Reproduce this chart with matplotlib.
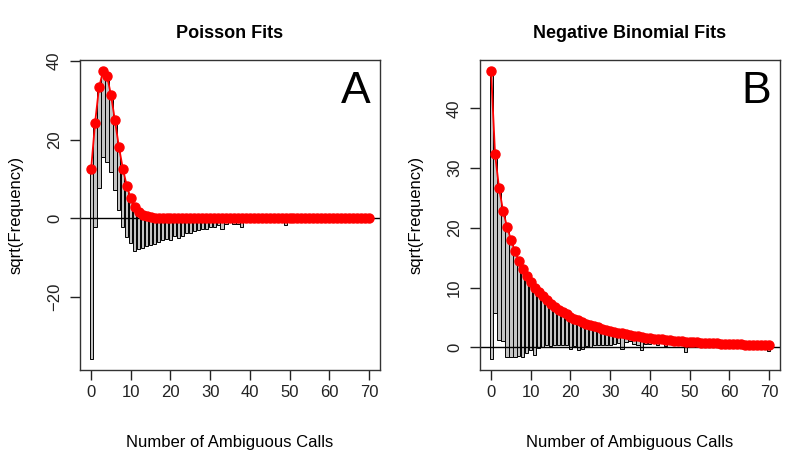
import numpy as np
import matplotlib.pyplot as plt

plt.rcParams['font.family'] = ['Liberation Sans', 'DejaVu Sans']

# number of ambiguous calls 0..70
calls = np.arange(71)

# sqrt of observed frequencies
obs_sqrt = [48.1, 26.5, 25.5, 21.8, 21.8, 19.6, 17.7, 16.0, 14.7, 12.9,
            11.4, 11.3, 9.4, 8.5, 7.6, 7.1, 6.5, 6.0, 5.6, 5.2,
            5.4, 4.6, 4.9, 4.5, 3.7, 3.6, 3.2, 2.9, 2.7, 2.6,
            2.3, 2.1, 1.7, 2.6, 1.4, 1.0, 1.4, 1.4, 2.2, 1.0,
            1.0, 0.0, 1.0, 0.0, 1.0, 0.0, 0.0, 0.0, 0.0, 1.7,
            0.0, 0.0, 0.0, 0.0, 0.0, 0.0, 0.0, 0.0, 0.0, 0.0,
            0.0, 0.0, 0.0, 0.0, 0.0, 0.0, 0.0, 0.0, 0.0, 0.0,
            1.0]

# sqrt of expected frequencies, Poisson fit
pois_sqrt = [12.5, 24.3, 33.3, 37.3, 36.2, 31.4, 24.9, 18.2, 12.6, 8.2,
             5.1, 3.0, 1.7, 0.9, 0.47, 0.23, 0.11, 0.05, 0.02, 0.01,
             0.0, 0.0, 0.0, 0.0, 0.0, 0.0, 0.0, 0.0, 0.0, 0.0,
             0.0, 0.0, 0.0, 0.0, 0.0, 0.0, 0.0, 0.0, 0.0, 0.0,
             0.0, 0.0, 0.0, 0.0, 0.0, 0.0, 0.0, 0.0, 0.0, 0.0,
             0.0, 0.0, 0.0, 0.0, 0.0, 0.0, 0.0, 0.0, 0.0, 0.0,
             0.0, 0.0, 0.0, 0.0, 0.0, 0.0, 0.0, 0.0, 0.0, 0.0,
             0.0]

# sqrt of expected frequencies, negative binomial fit
nb_sqrt = [46.2, 32.3, 26.7, 22.9, 20.2, 18.0, 16.1, 14.5, 13.1, 11.9,
           10.9, 10.0, 9.2, 8.5, 7.9, 7.3, 6.8, 6.3, 5.9, 5.5,
           5.1, 4.8, 4.5, 4.2, 3.9, 3.7, 3.5, 3.3, 3.1, 2.9,
           2.7, 2.6, 2.4, 2.3, 2.2, 2.0, 1.9, 1.8, 1.7, 1.6,
           1.5, 1.45, 1.4, 1.3, 1.25, 1.2, 1.1, 1.05, 1.0, 0.95,
           0.9, 0.85, 0.8, 0.77, 0.73, 0.7, 0.66, 0.63, 0.6, 0.57,
           0.54, 0.51, 0.49, 0.46, 0.44, 0.42, 0.4, 0.38, 0.36, 0.34,
           0.32]

panels = [("Poisson Fits", "A", pois_sqrt, [-20, 0, 20, 40]),
          ("Negative Binomial Fits", "B", nb_sqrt, [0, 10, 20, 30, 40])]

fig = plt.figure(figsize=(8, 4.5), dpi=100)
lefts = [80, 480]

for (title, letter, exp_sqrt, yticks), left in zip(panels, lefts):
    ax = fig.add_axes([left / 800, 1 - 370 / 450, 300 / 800, 310 / 450])
    exp_sqrt = np.array(exp_sqrt)
    obs = np.array(obs_sqrt)
    bottoms = exp_sqrt - obs

    ax.bar(calls, obs, bottom=bottoms, width=0.8, color='#c4c4c4',
           edgecolor='black', linewidth=0.7, zorder=1)
    ax.axhline(0, color='black', lw=1, zorder=2)
    ax.plot(calls, exp_sqrt, color='red', lw=1.3, zorder=3)
    ax.plot(calls, exp_sqrt, 'o', color='red', ms=6.5, zorder=4)

    lo = min(bottoms.min(), exp_sqrt.min())
    hi = max(bottoms.max(), exp_sqrt.max())
    pad = (hi - lo) * 0.04
    ax.set_ylim(lo - pad, hi + pad)
    ax.set_xlim(-70 * 0.04, 70 * 1.04)

    ax.set_xticks(range(0, 71, 10))
    ax.set_yticks(yticks)
    for lab in ax.get_yticklabels():
        lab.set_rotation(90)
        lab.set_va('center')
    ax.tick_params(direction='out', length=7, labelsize=12, width=1,
                   colors='#222222')
    ax.tick_params(axis='y', pad=6)
    ax.tick_params(axis='x', pad=4)
    for sp in ax.spines.values():
        sp.set_color('#333333')
        sp.set_linewidth(1)

    ax.set_title(title, fontsize=13, fontweight='bold', pad=16)
    ax.set_xlabel('Number of Ambiguous Calls', fontsize=12, labelpad=25)
    ax.set_ylabel('sqrt(Frequency)', fontsize=12, labelpad=17)
    ax.text(0.97, 0.965, letter, transform=ax.transAxes, fontsize=32,
            ha='right', va='top')

fig.savefig('out.png', dpi=100)
